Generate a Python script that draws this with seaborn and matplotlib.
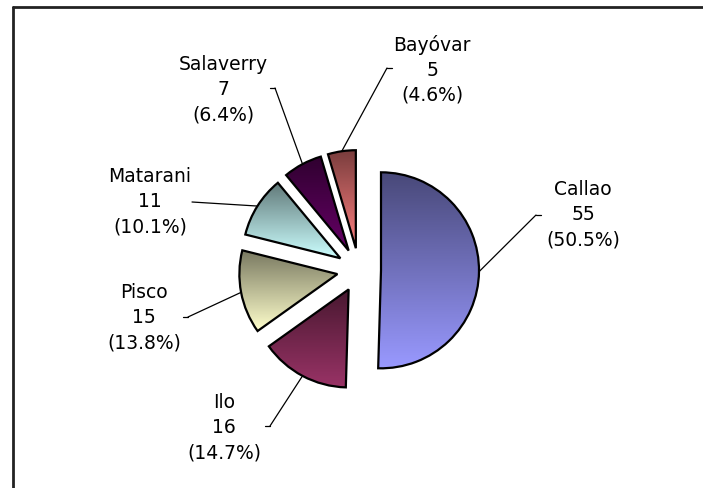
import numpy as np
import matplotlib
matplotlib.use("Agg")
import matplotlib.pyplot as plt
from matplotlib.lines import Line2D
import seaborn as sns

# Port shares
ports = ["Callao", "Ilo", "Pisco", "Matarani", "Salaverry", "Bayóvar"]
counts = [55, 16, 15, 11, 7, 5]
base_colors = ["#9999FF", "#993366", "#FFFFCC", "#CCFFFF", "#660066", "#FF8080"]

W, H = 703, 489

# label layout in pixels from the top-left: text centre, elbow of leader, side of tick
label_xy = [(583, 215), (224, 428), (144, 318), (150, 202), (223, 90), (432, 70)]
elbow_xy = [(536, 216), (270, 427), (188, 318), (192, 203), (275, 89), (387, 69)]
tick_dir = [1, -1, -1, 0, -1, 1]


def px(x, y):
    return x, H - y


sns.set_theme(style="white")
plt.rcParams["font.family"] = ["DejaVu Sans"]

fig = plt.figure(figsize=(W / 100, H / 100), dpi=100)
ax = fig.add_axes([0, 0, 1, 1])

total = sum(counts)
wedges, _ = ax.pie(
    counts,
    colors=base_colors,
    startangle=90,
    counterclock=False,
    radius=98,
    center=px(359, 271),
    explode=[22] * len(counts),
    wedgeprops=dict(edgecolor="black", linewidth=1.6),
)

for w, col in zip(wedges, base_colors):
    rgb = np.array(matplotlib.colors.to_rgb(col))
    cmap = sns.blend_palette([rgb * 0.47, rgb], as_cmap=True)
    bb = w.get_path().get_extents()
    grad = np.linspace(0, 1, 256).reshape(-1, 1)
    im = ax.imshow(grad, cmap=cmap, extent=(bb.x0, bb.x1, bb.y0, bb.y1),
                   origin="upper", aspect="auto", zorder=2, interpolation="bilinear")
    im.set_clip_path(w)
    w.set_facecolor("none")
    w.set_zorder(3)

# labels with leader lines
for w, name, c, lxy, exy, d in zip(wedges, ports, counts, label_xy, elbow_xy, tick_dir):
    thetam = np.deg2rad((w.theta1 + w.theta2) / 2)
    cx, cy = w.center
    ex, ey = cx + w.r * np.cos(thetam), cy + w.r * np.sin(thetam)
    bx, by = px(*exy)
    ax.plot([ex, bx], [ey, by], color="black", lw=0.9, zorder=4)
    if d != 0:
        ax.plot([bx, bx + 5 * d], [by, by], color="black", lw=0.9, zorder=4)
    ax.text(*px(*lxy), f"{name}\n{c}\n({c / total * 100:.1f}%)", ha="center", va="center",
            fontsize=13.5, linespacing=1.4, color="black", zorder=5)

ax.set_xlim(0, W)
ax.set_ylim(0, H)
ax.set_aspect("auto")
ax.axis("off")

# chart area border (top and left edges visible)
fig.add_artist(Line2D([13 / W, 13 / W], [0, 1 - 8 / H], transform=fig.transFigure, color="#222222", lw=2))
fig.add_artist(Line2D([13 / W, 1], [1 - 8 / H, 1 - 8 / H], transform=fig.transFigure, color="#222222", lw=2))

fig.savefig("out.png", dpi=100, facecolor="white")
